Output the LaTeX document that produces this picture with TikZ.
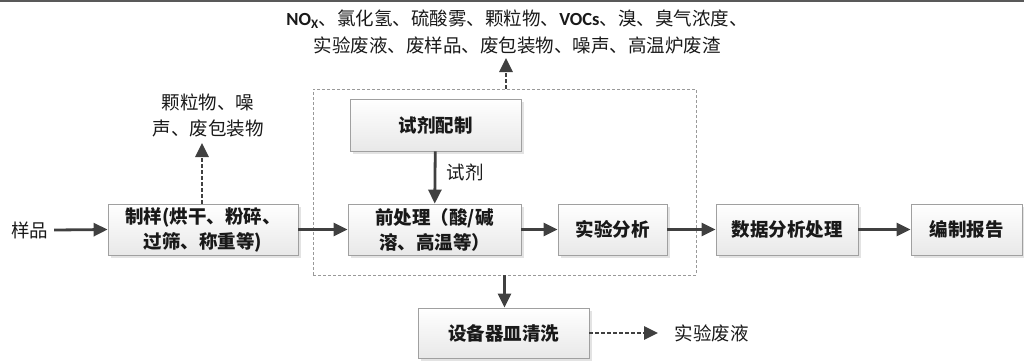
\documentclass[tikz,border=0pt]{standalone}
\usepackage{fontspec}
\setmainfont{Noto Sans CJK SC}
\newfontfamily\lat{Carlito}
\usetikzlibrary{arrows.meta,shadows}
\definecolor{arr}{HTML}{404040}
\definecolor{bord}{HTML}{A0A0A0}
\begin{document}
\begin{tikzpicture}[x=1pt,y=-1pt,
  box/.style={draw=bord, line width=0.8pt, top color=white, bottom color=black!9,
    drop shadow={shadow xshift=2.5pt, shadow yshift=-2.5pt, fill=black!22},
    inner sep=0pt, align=center, font=\fontsize{18.5}{25}\selectfont\bfseries, text=black!90},
  lbl/.style={inner sep=0pt, align=center, font=\fontsize{18.5}{26}\selectfont, text=black!90},
  conn/.style={draw=arr, line width=2.8pt, -{Triangle[length=14pt,width=13pt]}},
  dconn/.style={conn, dash pattern=on 3.5pt off 2.5pt},
  container/.style={draw=black!40, line width=0.8pt, dash pattern=on 3pt off 2pt, inner sep=0pt}
]
\useasboundingbox (0,0) rectangle (1024,360);
\draw[black!65, line width=2pt] (0,1) -- (1024,1);

\node[container, minimum width=383pt, minimum height=186pt] (cont) at (504.5,182) {};

\node[box, minimum width=190pt, minimum height=51pt] (zy) at (203,229.5) {制样(烘干、粉碎、\\过筛、称重等)};
\node[box, minimum width=173pt, minimum height=51pt] (qcl) at (434.5,229.5) {前处理（酸/碱\\溶、高温等）};
\node[box, minimum width=109pt, minimum height=51pt] (syfx) at (612.5,229.5) {实验分析};
\node[box, minimum width=142pt, minimum height=51pt] (sjfx) at (787,229.5) {数据分析处理};
\node[box, minimum width=111pt, minimum height=51pt] (bzbg) at (966.5,229.5) {编制报告};
\node[box, minimum width=171pt, minimum height=52pt] (sjpz) at (435.5,125) {试剂配制};
\node[box, minimum width=171pt, minimum height=50pt] (sbqm) at (503.5,333) {设备器皿清洗};

\node[lbl] (yp) at (29.5,230) {样品};
\node[lbl] (sj) at (465,172) {试剂};
\node[lbl] (syfy) at (711.5,333) {实验废液};
\node[lbl] (left) at (208,115) {颗粒物、噪\\声、废包装物};
\node[lbl, font=\fontsize{18.5}{27}\selectfont] (top) at (517,32) {{\lat\bfseries NO\textsubscript{X}}、氯化氢、硫酸雾、颗粒物、{\lat\bfseries VOCs}、溴、臭气浓度、\\实验废液、废样品、废包装物、噪声、高温炉废渣};

\coordinate (topend) at (506,58);
\coordinate (leftend) at (202,143);
\coordinate (btmend) at (658,333);

\draw[conn] (yp.east) ++(6,0) -- (zy.west);
\draw[conn] (zy) -- (qcl);
\draw[conn] (qcl) -- (syfx);
\draw[conn] (syfx) -- (sjfx);
\draw[conn] (sjfx) -- (bzbg);
\draw[conn] (sjpz) -- (qcl);
\draw[conn] (cont.south) -- (cont.south |- sbqm.north);
\draw[dconn] (topend |- cont.north) -- (topend);
\draw[dconn] (leftend |- zy.north) -- (leftend);
\draw[dconn] (sbqm.east) -- (btmend);
\end{tikzpicture}
\end{document}
